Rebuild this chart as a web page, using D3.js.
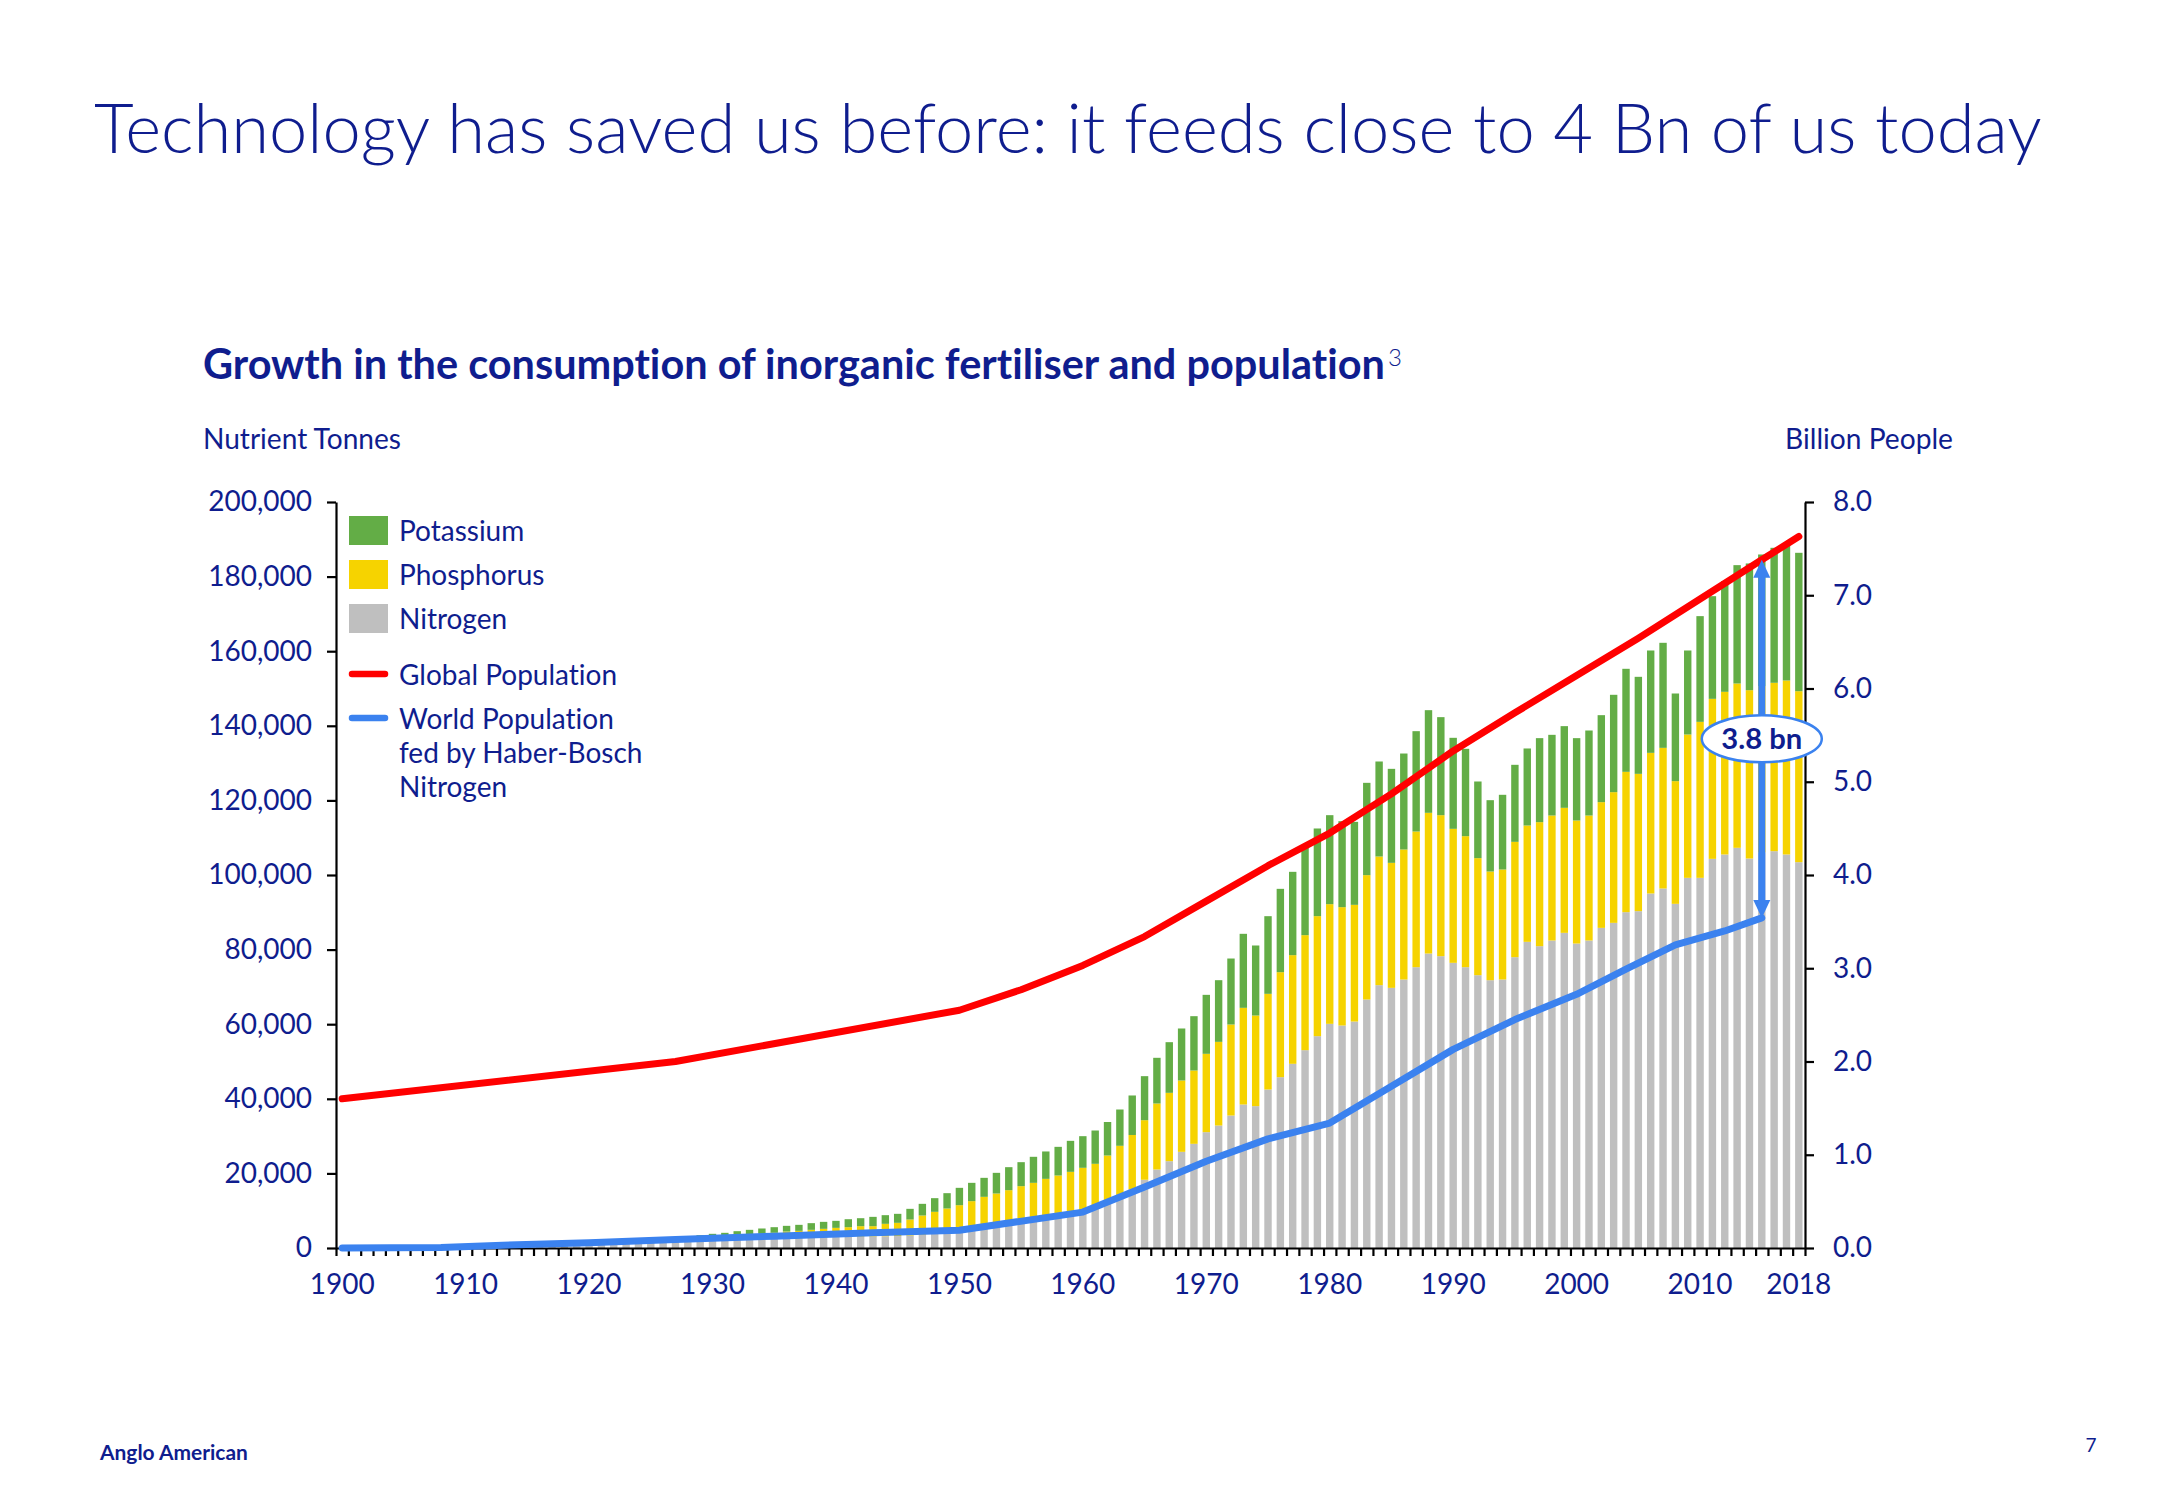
<!DOCTYPE html>
<html><head><meta charset="utf-8">
<script src="https://cdn.jsdelivr.net/npm/d3@7"></script>
<style>
html,body{margin:0;padding:0;background:#fff;}
svg{display:block;font-family:Lato,"Open Sans",sans-serif;font-variant-ligatures:none;font-feature-settings:"liga" 0,"clig" 0;}
</style></head><body>
<svg id="chart" width="2166" height="1500"></svg>
<script>
// ---------------- DATA (thousand nutrient tonnes, billion people) ----------------
const years = d3.range(1900, 2019);
const nitrogen = [
  400,420,450,480,520,560,600,640,680,720,760,800,850,900,870,820,900,950,980,1050,
  1150,1200,1300,1400,1550,1700,1850,1800,1850,
  1900,2000,2050,2150,2250,2350,2450,2550,2650,2750,2850,2950,3000,3050,3100,3150,3200,3350,3550,3800,
  4050,4300,4800,5200,5600,6100,6600,7200,7800,8500,9200,10000,11200,12500,14000,15800,18300,
  21050,23280,25780,27930,31060,32840,35520,38470,38030,42490,
  45800,49380,53040,56790,60100,59650,60720,66620,70470,69750,
  71980,75290,78950,78240,76450,75290,73140,71800,71980,77970,
  82080,80920,82440,84490,81630,82440,85830,87170,90040,90310,
  95040,96380,92270,99240,99240,104330,105500,107290,104420,106030,
  106390,105500,103440];
const phosphorus = [
  0,0,0,0,0,0,0,0,0,0,0,0,0,0,0,0,0,0,0,0,0,0,0,0,0,0,0,200,550,
  700,900,1000,1100,1200,1450,1630,1870,1950,2120,2290,2450,2580,2800,2750,3330,3550,4290,5160,5900,
  6540,7180,7760,8520,9010,9400,9980,10270,10740,10940,11220,11500,11370,12300,13400,14500,15970,
  17690,18320,19130,19660,21000,22430,24400,25920,24300,25650,
  28150,29130,30830,32180,32080,31730,31280,33340,34490,33510,
  34860,36370,37720,37800,35930,35120,31380,29140,29500,30920,
  31190,33250,33510,33520,32980,33510,33700,35040,37620,36810,
  37710,37710,32890,38430,41820,42900,43610,44050,45130,44590,
  45140,46650,45840];
const potassium = [
  0,0,0,0,0,0,0,0,0,0,0,0,0,0,0,0,0,0,0,0,0,0,0,0,0,0,0,100,500,
  840,900,1020,1260,1420,1430,1500,1520,1610,1790,1870,1880,2140,2140,2500,2320,2410,2860,3130,3660,
  4110,4650,4910,5090,5540,6170,6430,6980,7340,7680,8310,8480,8930,8980,9730,10590,11800,
  12250,13580,13940,14560,15810,16530,17690,19840,18770,20820,
  22340,22340,23500,23500,23860,23050,22250,24750,25470,25200,
  25730,26900,27520,26280,24400,23420,20550,19120,20020,20650,
  20650,22520,21630,21900,22080,22790,23320,26100,27620,26010,
  27440,28160,23500,22520,28340,27520,29670,31730,33970,35310,
  36190,36460,37100];

const popYears = [1900,1927,1950,1955,1960,1965,1970,1975,1980,1985,1990,1995,2000,2005,2010,2015,2018];
const globalPopulation = [1.60,2.00,2.55,2.77,3.03,3.34,3.72,4.10,4.45,4.87,5.33,5.74,6.14,6.54,6.96,7.38,7.63];

const hbYears = [1900,1908,1913,1920,1927,1935,1943,1950,1960,1965,1970,1975,1980,1985,1990,1995,2000,2004,2008,2012,2015];
const hbPopulation = [0,0.005,0.03,0.055,0.09,0.127,0.163,0.19,0.385,0.655,0.93,1.17,1.34,1.735,2.13,2.45,2.72,2.99,3.25,3.40,3.54];

const leftTicks = [0,20000,40000,60000,80000,100000,120000,140000,160000,180000,200000];
const rightTicks = [0,1,2,3,4,5,6,7,8];
const xLabelYears = [1900,1910,1920,1930,1940,1950,1960,1970,1980,1990,2000,2010,2018];
const seriesKeys = ["Nitrogen","Phosphorus","Potassium"];
const arrowYear = 2015;
const annotationText = "3.8 bn";

// ---------------- STYLE ----------------
const NAVY = "#0f1d8e";
const COLORS = {Nitrogen:"#bfbfbf", Phosphorus:"#f6d300", Potassium:"#63ad46"};
const RED = "#ff0000", BLUE = "#3b82ef";
const FONT = "Lato, 'Open Sans', sans-serif";

const svg = d3.select("#chart");
svg.append("rect").attr("width",2166).attr("height",1500).attr("fill","#fff");

function fitWidth(sel, w){
  const len = sel.node().getComputedTextLength();
  const fs = parseFloat(sel.attr("font-size"));
  if (len > 0) sel.attr("font-size", fs * w / len);
  return sel;
}

// Titles
fitWidth(svg.append("text").attr("x",94).attr("y",153).attr("font-size",64).attr("font-weight",300)
  .attr("fill",NAVY).text("Technology has saved us before: it feeds close to 4 Bn of us today"), 1948);
const sub = svg.append("text").attr("x",203).attr("y",379).attr("font-size",38).attr("font-weight",700)
  .attr("fill",NAVY).text("Growth in the consumption of inorganic fertiliser and population");
fitWidth(sub, 1182);
svg.append("text").attr("x",203+1182+3).attr("y",366).attr("font-size",24).attr("font-weight",300)
  .attr("fill",NAVY).text("3");
fitWidth(svg.append("text").attr("x",203).attr("y",449).attr("font-size",26).attr("fill",NAVY).text("Nutrient Tonnes"),198);
fitWidth(svg.append("text").attr("x",1953).attr("y",449).attr("text-anchor","end").attr("font-size",26).attr("fill",NAVY).text("Billion People"),168);

// ---------------- SCALES ----------------
const X0 = 336, X1 = 1805, Y0 = 1248, Y1 = 502;
const x = d3.scaleBand().domain(years).range([X0, X1]).paddingInner(0.4).paddingOuter(0.2);
const xLin = d3.scaleLinear().domain([1900, 2018]).range([x(1900)+x.bandwidth()/2, x(2018)+x.bandwidth()/2]);
const xEdge = d3.scaleLinear().domain([1900, 2019]).range([X0, X1]);
const y = d3.scaleLinear().domain([0, 200000]).range([Y0, Y1]);
const yR = d3.scaleLinear().domain([0, 8]).range([Y0, Y1]);

// ---------------- BARS ----------------
const rows = years.map((yr,i)=>({year:yr, Nitrogen:nitrogen[i], Phosphorus:phosphorus[i], Potassium:potassium[i]}));
const stacked = d3.stack().keys(seriesKeys)(rows);
svg.append("g").selectAll("g").data(stacked).join("g")
  .attr("fill", d=>COLORS[d.key])
  .selectAll("rect").data(d=>d).join("rect")
  .attr("x", d=>x(d.data.year)).attr("width", x.bandwidth())
  .attr("y", d=>y(d[1])).attr("height", d=>Math.max(0, y(d[0]) - y(d[1])));

// ---------------- AXES ----------------
function styleAxis(g){
  g.selectAll(".domain").attr("stroke","#000").attr("stroke-width",2.2);
  g.selectAll(".tick line").attr("stroke","#000").attr("stroke-width",2.2);
  g.selectAll(".tick text").attr("fill",NAVY).attr("font-size",28).attr("font-family",FONT);
}
svg.append("g").attr("transform",`translate(${X0},0)`)
  .call(d3.axisLeft(y).tickValues(leftTicks).tickFormat(d3.format(",")).tickSize(9).tickSizeOuter(0).tickPadding(15))
  .call(styleAxis);
svg.append("g").attr("transform",`translate(${X1},0)`)
  .call(d3.axisRight(yR).tickValues(rightTicks).tickFormat(d3.format(".1f")).tickSize(9).tickSizeOuter(0).tickPadding(19))
  .call(styleAxis);
svg.append("g").attr("transform",`translate(0,${Y0})`)
  .call(d3.axisBottom(xEdge).tickValues(d3.range(1900, 2020)).tickFormat("").tickSize(8).tickSizeOuter(0))
  .call(styleAxis);
svg.append("g").attr("transform",`translate(0,${Y0})`)
  .call(d3.axisBottom(x).tickValues(xLabelYears).tickSize(0).tickPadding(26))
  .call(styleAxis)
  .call(g=>g.select(".domain").remove());

// ---------------- LINES ----------------
const line = d3.line().x(d=>xLin(d[0])).y(d=>yR(d[1]));
svg.append("path").datum(popYears.map((yr,i)=>[yr, globalPopulation[i]]))
  .attr("d", line).attr("fill","none").attr("stroke",RED).attr("stroke-width",7)
  .attr("stroke-linejoin","round").attr("stroke-linecap","round");
svg.append("path").datum(hbYears.map((yr,i)=>[yr, hbPopulation[i]]))
  .attr("d", line).attr("fill","none").attr("stroke",BLUE).attr("stroke-width",7)
  .attr("stroke-linejoin","round").attr("stroke-linecap","round");

// ---------------- ARROW ANNOTATION ----------------
const ai = popYears.indexOf(arrowYear), bi = hbYears.indexOf(arrowYear);
const ax = xLin(arrowYear), aTop = yR(globalPopulation[ai]), aBot = yR(hbPopulation[bi]);
const headH = 18, headW = 17;
const ann = svg.append("g");
ann.append("line").attr("x1",ax).attr("x2",ax).attr("y1",aTop+headH-2).attr("y2",aBot-headH+2)
  .attr("stroke",BLUE).attr("stroke-width",7);
ann.append("path").attr("fill",BLUE)
  .attr("d",`M${ax},${aTop}L${ax-headW/2},${aTop+headH}L${ax+headW/2},${aTop+headH}Z`);
ann.append("path").attr("fill",BLUE)
  .attr("d",`M${ax},${aBot}L${ax-headW/2},${aBot-headH}L${ax+headW/2},${aBot-headH}Z`);
const midVal = (globalPopulation[ai] + hbPopulation[bi]) / 2;
ann.append("ellipse").attr("cx",ax).attr("cy",yR(midVal)).attr("rx",60).attr("ry",23.5)
  .attr("fill","#fff").attr("stroke",BLUE).attr("stroke-width",2.5);
fitWidth(ann.append("text").attr("x",ax).attr("y",yR(midVal)+10).attr("text-anchor","middle")
  .attr("font-size",27).attr("font-weight",700).attr("fill",NAVY).text(annotationText), 81);

// ---------------- LEGEND ----------------
const leg = svg.append("g").attr("font-size",28).attr("fill",NAVY);
const legendBoxes = [["Potassium",516],["Phosphorus",560],["Nitrogen",604]];
legendBoxes.forEach(([k,top])=>{
  leg.append("rect").attr("x",349).attr("y",top).attr("width",39).attr("height",29).attr("fill",COLORS[k]);
  leg.append("text").attr("x",399).attr("y",top+25).text(k);
});
leg.append("line").attr("x1",352).attr("x2",385).attr("y1",674).attr("y2",674)
  .attr("stroke",RED).attr("stroke-width",6.5).attr("stroke-linecap","round");
leg.append("text").attr("x",399).attr("y",685).text("Global Population");
leg.append("line").attr("x1",352).attr("x2",385).attr("y1",718).attr("y2",718)
  .attr("stroke",BLUE).attr("stroke-width",6.5).attr("stroke-linecap","round");
["World Population","fed by Haber-Bosch","Nitrogen"].forEach((t,i)=>{
  leg.append("text").attr("x",399).attr("y",729+i*34).text(t);
});

// ---------------- FOOTER ----------------
fitWidth(svg.append("text").attr("x",100).attr("y",1460).attr("font-size",21).attr("font-weight",700)
  .attr("fill",NAVY).text("Anglo American"),148);
svg.append("text").attr("x",2091).attr("y",1452).attr("text-anchor","middle").attr("font-size",19)
  .attr("fill",NAVY).text("7");
</script>
</body></html>
